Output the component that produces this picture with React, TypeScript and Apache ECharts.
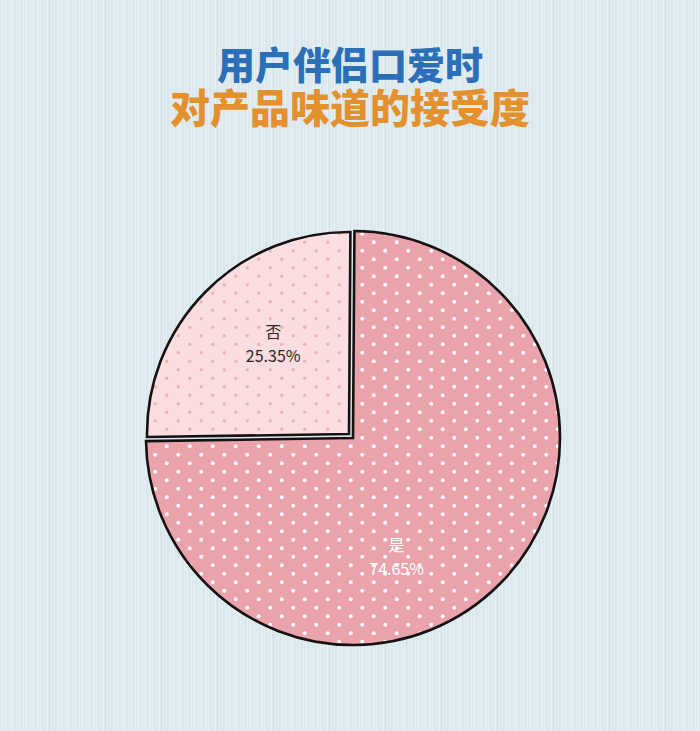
import React, { useEffect, useRef } from "react";
import * as echarts from "echarts";

const categories = ["是", "否"];
const values = [74.65, 25.35];
const fillColors = ["#eaa2ab", "#fcdde0"];
const dotColors = ["#fff6f7", "#efb2ba"];
const labelColors = ["#ffffff", "#2f2729"];
const titleLines = ["用户伴侣口爱时", "对产品味道的接受度"];

function makeDots(bg: string, dot: string, r: number) {
  const c = document.createElement("canvas");
  c.width = 23;
  c.height = 17;
  const ctx = c.getContext("2d")!;
  ctx.fillStyle = bg;
  ctx.fillRect(0, 0, 23, 17);
  ctx.fillStyle = dot;
  const pts = [
    [5.75, 4.25],
    [17.25, 12.75],
  ];
  for (const [x, y] of pts) {
    ctx.beginPath();
    ctx.arc(x, y, r, 0, Math.PI * 2);
    ctx.fill();
  }
  return c;
}

export default function App() {
  const ref = useRef<HTMLDivElement>(null);
  useEffect(() => {
    if (!ref.current) return;
    const chart = echarts.init(ref.current, null, { renderer: "svg" });
    const patterns = categories.map((_, i) =>
      makeDots(fillColors[i], dotColors[i], i === 0 ? 2.0 : 1.7)
    );
    const centers = [
      [353, 438],
      [349, 434],
    ];
    const radii = [207, 202];
    const nudges = [
      { dx: -32, dy: 43 },
      { dx: -2, dy: -18 },
    ];
    const series = categories.map((cat, si) => ({
      type: "pie",
      center: centers[si],
      radius: radii[si],
      startAngle: 89.6,
      clockwise: true,
      silent: true,
      labelLine: { show: false },
      labelLayout: nudges[si],
      data: categories.map((name, i) => ({
        name,
        value: values[i],
        itemStyle:
          i === si
            ? {
                color: { image: patterns[i], repeat: "repeat" },
                borderColor: "#161213",
                borderWidth: 2.6,
                borderJoin: "miter",
              }
            : { color: "rgba(0,0,0,0)", borderWidth: 0 },
        label:
          i === si
            ? {
                show: true,
                position: "inside",
                color: labelColors[i],
                fontSize: 16,
                lineHeight: 24,
                fontFamily: "Noto Sans CJK SC",
                formatter: (p: any) => `${p.name}\n${p.value.toFixed(2)}%`,
              }
            : { show: false },
      })),
    }));
    chart.setOption({
      animation: false,
      backgroundColor: "transparent",
      title: [
        {
          text: titleLines[0],
          left: "center",
          top: 43,
          padding: 0,
          textStyle: {
            color: "#2b6fb8",
            fontSize: 38,
            fontWeight: 900,
            fontFamily: "Noto Sans CJK SC",
            lineHeight: 38,
          },
        },
        {
          text: titleLines[1],
          left: "center",
          top: 86,
          padding: 0,
          textStyle: {
            color: "#e3902f",
            fontSize: 40,
            fontWeight: 900,
            fontFamily: "Noto Sans CJK SC",
            lineHeight: 40,
          },
        },
      ],
      series,
    });
    return () => chart.dispose();
  }, []);
  return (
    <div
      ref={ref}
      style={{
        position: "fixed",
        left: 0,
        top: 0,
        width: 700,
        height: 731,
        background:
          "repeating-linear-gradient(90deg, #dbe9ee 0px, #dbe9ee 2px, #e5eff2 2px, #e5eff2 3px, #dde9ee 3px, #dde9ee 5px, #e8f1f4 5px, #e8f1f4 6px, #d9e7ec 6px, #d9e7ec 7px)",
      }}
    />
  );
}
